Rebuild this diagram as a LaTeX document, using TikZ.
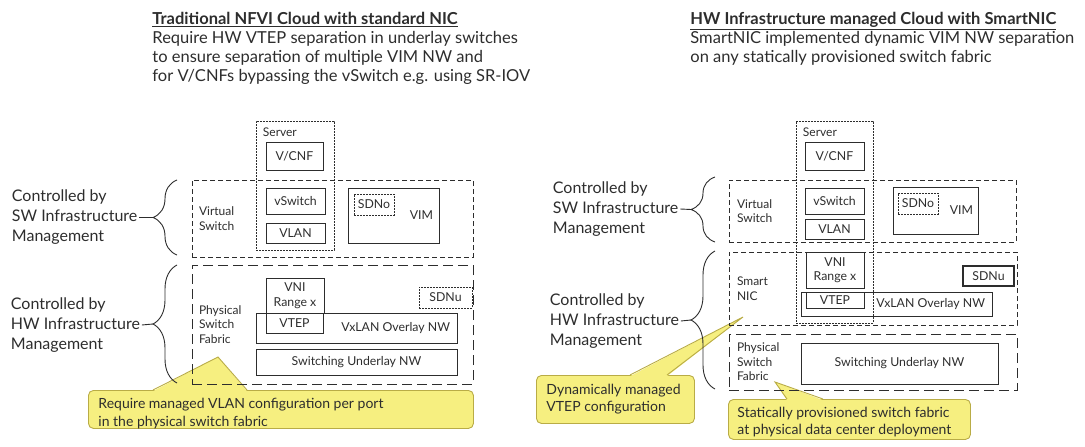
\documentclass[tikz,border=0pt]{standalone}
\usepackage{fontspec}
\setmainfont{Lato}
\usetikzlibrary{positioning,decorations.pathreplacing}
\definecolor{notefill}{RGB}{246,239,128}
\definecolor{noteline}{RGB}{185,172,70}
\definecolor{ink}{RGB}{45,45,45}
\newcommand\hdfont{\fontsize{16.5}{19}\selectfont}
\newcommand\mgfont{\fontsize{16}{20}\selectfont}
\newcommand\bxfont{\fontsize{12.3}{14.5}\selectfont}
\newcommand\lbfont{\fontsize{12}{14.5}\selectfont}
\newcommand\ntfont{\fontsize{14}{17.5}\selectfont}

\begin{document}
\begin{tikzpicture}[x=1pt, y=-1pt, color=ink, line width=0.9pt,
  box/.style={draw, inner sep=0pt, font=\bxfont, align=center},
  txt/.style={inner sep=0pt, font=\bxfont},
  lab/.style={inner sep=0pt, font=\lbfont, align=left},
  vsbox/.style={draw, dash pattern=on 5pt off 3pt},
  hwbox/.style={draw, dash pattern=on 10pt off 5pt},
  srvbox/.style={draw, line width=1pt, dash pattern=on 1.6pt off 1.4pt},
  sdnbox/.style={box, line width=0.8pt, dash pattern=on 1.6pt off 1.4pt},
  mgmt/.style={font=\mgfont, align=left, inner sep=1.5pt, anchor=west},
  head/.style={font=\hdfont, align=left, inner sep=0pt, anchor=north west},
  note/.style={draw=noteline, fill=notefill, rounded corners=5pt, anchor=north west, inner sep=0pt},
  notetext/.style={font=\ntfont, align=left, inner sep=0pt, anchor=north west},
  curly/.style={decorate, decoration={brace, amplitude=24pt}}
]
\useasboundingbox (0,0) rectangle (1085,447);

% headings
\node[head] (lhead) at (152,12) {\underline{\textbf{Traditional NFVI Cloud with standard NIC}}\\
  Require HW VTEP separation in underlay switches\\
  to ensure separation of multiple VIM NW and\\
  for V/CNFs bypassing the vSwitch e.g. using SR-IOV};
\node[head] (rhead) at (690,12) {\underline{\textbf{HW Infrastructure managed Cloud with SmartNIC}}\\
  SmartNIC implemented dynamic VIM NW separation\\
  on any statically provisioned switch fabric};

% callouts (under the lines)
\coordinate (ltip) at (218,357);
\coordinate (rtip1) at (743,317);
\coordinate (rtip2) at (775,382);
\node[note, minimum width=385, minimum height=38] (lnote) at (88,390) {};
\node[note, minimum width=158, minimum height=48] (rnote1) at (536,375) {};
\node[note, minimum width=242, minimum height=40] (rnote2) at (728,399) {};
\fill[notefill] ([xshift=65pt,yshift=-1.2pt]lnote.north west) -- (ltip) -- ([xshift=159pt,yshift=-1.2pt]lnote.north west) -- cycle;
\draw[noteline] ([xshift=65pt]lnote.north west) -- (ltip) -- ([xshift=159pt]lnote.north west);
\fill[notefill] ([xshift=94pt,yshift=-1.2pt]rnote1.north west) -- (rtip1) -- ([xshift=131pt,yshift=-1.2pt]rnote1.north west) -- cycle;
\draw[noteline] ([xshift=94pt]rnote1.north west) -- (rtip1) -- ([xshift=131pt]rnote1.north west);
\fill[notefill] ([xshift=59pt,yshift=-1.2pt]rnote2.north west) -- (rtip2) -- ([xshift=95pt,yshift=-1.2pt]rnote2.north west) -- cycle;
\draw[noteline] ([xshift=59pt]rnote2.north west) -- (rtip2) -- ([xshift=95pt]rnote2.north west);
\node[notetext, below right=8pt and 10pt of lnote.north west] (lnotetxt)
  {Require managed VLAN configuration per port\\in the physical switch fabric};
\node[notetext, below right=8.5pt and 10pt of rnote1.north west] (rnote1txt)
  {Dynamically managed\\VTEP configuration};
\node[notetext, below right=7.5pt and 9pt of rnote2.north west] (rnote2txt)
  {Statically provisioned switch fabric\\at physical data center deployment};

% left: traditional NFVI
\node[vsbox, minimum width=281, minimum height=77] (lvs) at (332.5,218.5) {};
\node[hwbox, minimum width=281, minimum height=119] (lpsf) at (332.5,324.5) {};
\node[srvbox, minimum width=78, minimum height=129] (lserver) at (295,185.5) {};
\node[lab, anchor=west, right=7pt of lvs.west] {Virtual\\Switch};
\node[lab, anchor=west, right=7pt of lpsf.west] {Physical\\Switch\\Fabric};
\node[lab, below right=7pt and 7pt of lserver.north west] {Server};
\node[box, minimum width=57, minimum height=28] (lvcnf) at (294.5,156) {V/CNF};
\node[box, minimum width=59, minimum height=26] (lvswitch) at (295.5,201) {vSwitch};
\node[box, minimum width=59, minimum height=20] (lvlan) at (295.5,233) {VLAN};
\node[box, minimum width=91, minimum height=55] (lvim) at (393.5,215.5) {};
\node[txt, left=6pt of lvim.east] {VIM};
\node[sdnbox, minimum width=40, minimum height=21] (lsdno) at (374,204.5) {SDNo};
\node[box, minimum width=58, minimum height=35] (lvni) at (295,295.5) {VNI\\Range x};
\node[box, minimum width=201, minimum height=30] (lvxlan) at (356.5,328) {};
\node[txt, left=7pt of lvxlan.east] {VxLAN Overlay NW};
\node[box, minimum width=57, minimum height=20] (lvtep) at (294.5,323) {VTEP};
\node[box, minimum width=201, minimum height=26] (lsul) at (356.5,362) {Switching Underlay NW};
\node[sdnbox, minimum width=53, minimum height=21] (lsdnu) at (445.5,297.5) {SDNu};

\node[mgmt] (lsw) at (10,217.5) {Controlled by\\SW Infrastructure\\Management};
\node[mgmt] (lhw) at (9,325) {Controlled by\\HW Infrastructure\\Management};
\draw[curly] (177,255) -- (177,180);
\draw[curly] (177,383) -- (177,265);
\coordinate (lbsw) at (153,217.5);
\coordinate (lbhw) at (153,324);
\draw (lsw.east) -- (lbsw);
\draw (lhw.east) -- (lbhw);

% right: SmartNIC
\node[vsbox, minimum width=287, minimum height=62] (rvs) at (872.5,211) {};
\node[vsbox, minimum width=288, minimum height=73] (rnic) at (873,288.5) {};
\node[hwbox, minimum width=288, minimum height=56] (rpsf) at (873,362) {};
\node[srvbox, minimum width=77, minimum height=202] (rserver) at (834.5,222) {};
\node[lab, anchor=west, right=8pt of rvs.west] {Virtual\\Switch};
\node[lab, anchor=west, right=8pt of rnic.west] {Smart\\NIC};
\node[lab, anchor=west, right=8pt of rpsf.west] {Physical\\Switch\\Fabric};
\node[lab, below right=7pt and 7pt of rserver.north west] {Server};
\node[box, minimum width=59, minimum height=28] (rvcnf) at (834.5,156) {V/CNF};
\node[box, minimum width=59, minimum height=26] (rvswitch) at (834.5,201) {vSwitch};
\node[box, minimum width=59, minimum height=20] (rvlan) at (834.5,229) {VLAN};
\node[box, minimum width=85, minimum height=47] (rvim) at (935.5,210.5) {};
\node[txt, left=5pt of rvim.east] {VIM};
\node[sdnbox, minimum width=40, minimum height=21] (rsdno) at (918,203.5) {SDNo};
\node[box, minimum width=58, minimum height=36] (rvni) at (835,270) {VNI\\Range x};
\node[box, minimum width=191, minimum height=24] (rvxlan) at (896.5,304) {};
\node[txt, left=7pt of rvxlan.east] {VxLAN Overlay NW};
\node[box, minimum width=58, minimum height=16] (rvtep) at (835,300) {VTEP};
\node[box, line width=1.1pt, minimum width=51, minimum height=20] (rsdnu) at (988.5,276) {SDNu};
\node[box, minimum width=197, minimum height=41] (rsul) at (899.5,363.5) {Switching Underlay NW};

\node[mgmt] (rsw) at (551,209) {Controlled by\\SW Infrastructure\\Management};
\node[mgmt] (rhw) at (548,321) {Controlled by\\HW Infrastructure\\Management};
\draw[curly] (715,242) -- (715,177);
\draw[curly] (715,389) -- (715,251);
\coordinate (rbsw) at (691,209.5);
\coordinate (rbhw) at (691,320);
\draw (rsw.east) -- (rbsw);
\draw (rhw.east) -- (rbhw);
\end{tikzpicture}
\end{document}
